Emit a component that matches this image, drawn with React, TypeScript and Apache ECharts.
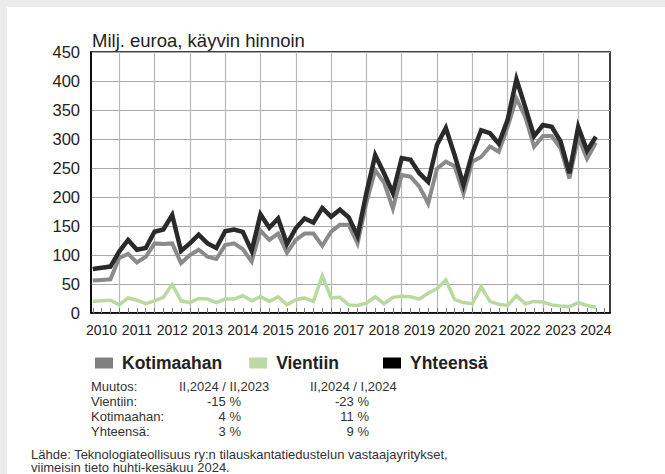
import React, { useEffect, useRef } from 'react';
import * as echarts from 'echarts';

const years = ['2010', '2011', '2012', '2013', '2014', '2015', '2016', '2017', '2018', '2019', '2020', '2021', '2022', '2023', '2024'];

// Quarterly values 2010 Q1 ... 2024 Q2 (milj. euroa)
const kotimaahan = [56, 57, 58, 95, 102, 87, 97, 120, 119, 120, 86, 100, 109, 97, 93, 117, 120, 110, 89, 142, 126, 137, 104, 126, 137, 137, 116, 140, 152, 152, 120, 190, 246, 225, 180, 238, 235, 218, 189, 249, 261, 253, 206, 261, 269, 287, 278, 321, 370, 338, 287, 305, 305, 284, 232, 303, 266, 294];
const vientiin = [20, 21, 22, 14, 26, 22, 16, 21, 27, 49, 21, 18, 25, 24, 18, 24, 24, 30, 21, 28, 20, 28, 14, 23, 26, 20, 64, 26, 27, 14, 13, 17, 28, 16, 27, 29, 28, 24, 34, 42, 57, 23, 18, 16, 45, 20, 15, 13, 30, 16, 20, 19, 14, 12, 11, 18, 13, 10];
const yhteensa = [76, 78, 80, 106, 126, 109, 112, 140, 144, 169, 107, 120, 135, 120, 112, 141, 144, 140, 107, 170, 147, 163, 119, 146, 163, 156, 181, 166, 178, 165, 133, 207, 272, 241, 207, 267, 264, 241, 226, 290, 319, 272, 221, 275, 315, 310, 292, 333, 403, 355, 305, 324, 321, 296, 241, 321, 280, 304];

const yTicks = { min: 0, max: 450, interval: 50 };

const tableHeader = ['Muutos:', 'II,2024 / II,2023', 'II,2024 / I,2024'];
const tableRowNames = ['Vientiin:', 'Kotimaahan:', 'Yhteensä:'];
const changeYoY = ['-15 %', '4 %', '3 %'];
const changeQoQ = ['-23 %', '11 %', '9 %'];

const sourceLines = [
  'Lähde: Teknologiateollisuus ry:n tilauskantatiedustelun vastaajayritykset,',
  'viimeisin tieto huhti-kesäkuu 2024.',
];

const SANS = "'Liberation Sans', Arial, sans-serif";

// quarter index k = 1..58 (point at the end of each quarter)
const toPoints = (arr: number[]) => arr.map((v, i) => [i + 1, v]);
const yearGridPos = years.slice(1).map((_, i) => 4 * (i + 1));
const yearLabelPos = years.map((_, i) => 4 * i + 2);
const quarterTickPos = Array.from({ length: 59 }, (_, i) => i + 1);

export default function App() {
  const ref = useRef<HTMLDivElement>(null);
  useEffect(() => {
    if (!ref.current) return;
    const chart = echarts.init(ref.current, null, { renderer: 'svg' });

    const tableTexts: any[] = [];
    const rowY = [386, 401, 416, 431];
    const tFont = `13px ${SANS}`;
    tableTexts.push({ type: 'text', x: 91, y: rowY[0], style: { text: tableHeader[0], font: tFont, fill: '#333', textVerticalAlign: 'middle' } });
    tableTexts.push({ type: 'text', x: 179, y: rowY[0], style: { text: tableHeader[1], font: tFont, fill: '#333', textVerticalAlign: 'middle' } });
    tableTexts.push({ type: 'text', x: 310, y: rowY[0], style: { text: tableHeader[2], font: tFont, fill: '#333', textVerticalAlign: 'middle' } });
    tableRowNames.forEach((name, i) => {
      const y = rowY[i + 1];
      tableTexts.push({ type: 'text', x: 91, y, style: { text: name, font: tFont, fill: '#333', textVerticalAlign: 'middle' } });
      tableTexts.push({ type: 'text', x: 241, y, style: { text: changeYoY[i], font: tFont, fill: '#333', textAlign: 'right', textVerticalAlign: 'middle' } });
      tableTexts.push({ type: 'text', x: 369, y, style: { text: changeQoQ[i], font: tFont, fill: '#333', textAlign: 'right', textVerticalAlign: 'middle' } });
    });
    sourceLines.forEach((t, i) => {
      tableTexts.push({
        type: 'text',
        x: 31,
        y: 454 + i * 13.6,
        style: { text: t, font: `13px ${SANS}`, lineHeight: 13, fill: '#333', textVerticalAlign: 'middle' },
      });
    });

    const legendText = { fontSize: 17.5, fontWeight: 'bold', fontFamily: SANS, color: '#222', padding: [0, 0, 0, 4] };

    chart.setOption({
      animation: false,
      backgroundColor: 'transparent',
      grid: { left: 91, top: 52, width: 519, height: 261, show: true, borderColor: '#000', borderWidth: 1.5, backgroundColor: 'transparent' },
      legend: [
        {
          left: 90,
          top: 349,
          itemWidth: 18,
          itemHeight: 11,
          itemGap: 27,
          icon: 'rect',
          textStyle: legendText,
          data: ['Kotimaahan', 'Vientiin'],
        },
        {
          left: 378,
          top: 349,
          itemWidth: 18,
          itemHeight: 11,
          icon: 'rect',
          textStyle: legendText,
          data: ['Yhteensä'],
        },
      ],
      xAxis: [
        {
          type: 'value',
          min: 0.8,
          max: 59.6,
          position: 'bottom',
          axisLine: { show: true, onZero: false, lineStyle: { color: '#000', width: 1.5 } },
          axisTick: { show: false, customValues: yearGridPos },
          splitLine: { show: true, lineStyle: { color: '#b8b8b8', width: 1.2 } },
          axisLabel: {
            customValues: yearLabelPos,
            formatter: (v: number) => years[Math.round((v - 2) / 4)] ?? '',
            fontSize: 14,
            fontFamily: SANS,
            color: '#222',
            margin: 10,
            showMinLabel: true,
            showMaxLabel: true,
            hideOverlap: false,
          },
        },
        {
          type: 'value',
          min: 0.8,
          max: 59.6,
          position: 'bottom',
          axisLine: { show: false },
          axisTick: { show: true, inside: true, length: 5, customValues: quarterTickPos, lineStyle: { color: '#777', width: 1 } },
          splitLine: { show: false },
          axisLabel: { show: false },
        },
      ],
      yAxis: {
        type: 'value',
        min: yTicks.min,
        max: yTicks.max,
        interval: yTicks.interval,
        axisLine: { show: true, lineStyle: { color: '#000', width: 1.5 } },
        axisTick: { show: false },
        splitLine: { show: true, lineStyle: { color: '#a8a8a8', width: 1.2 } },
        axisLabel: { fontSize: 16.5, fontFamily: SANS, color: '#222', margin: 11 },
      },
      graphic: [
        { type: 'text', left: 92, top: 31, style: { text: 'Milj. euroa, käyvin hinnoin', font: `18.5px ${SANS}`, fill: '#222' } },
        ...tableTexts,
      ],
      series: [
        {
          name: 'Vientiin',
          type: 'line',
          xAxisIndex: 0,
          data: toPoints(vientiin),
          symbol: 'none',
          lineStyle: { color: '#b9da9f', width: 3.5, join: 'miter' },
          itemStyle: { color: '#bcd9a3' },
          z: 2,
        },
        {
          name: 'Kotimaahan',
          type: 'line',
          xAxisIndex: 0,
          data: toPoints(kotimaahan),
          symbol: 'none',
          lineStyle: { color: '#8a8a8a', width: 4, join: 'miter' },
          itemStyle: { color: '#808080' },
          z: 3,
        },
        {
          name: 'Yhteensä',
          type: 'line',
          xAxisIndex: 0,
          data: toPoints(yhteensa),
          symbol: 'none',
          lineStyle: { color: '#2a2a2a', width: 4.5, join: 'miter' },
          itemStyle: { color: '#000' },
          z: 4,
        },
      ],
    });
    return () => chart.dispose();
  }, []);

  return (
    <div style={{ position: 'absolute', left: 0, top: 0, width: 665, height: 474, background: '#ececec' }}>
      <div style={{ position: 'absolute', left: 7, top: 7, width: 658, height: 467, background: '#fff' }} />
      <div ref={ref} style={{ position: 'absolute', left: 0, top: 0, width: 665, height: 474 }} />
    </div>
  );
}
